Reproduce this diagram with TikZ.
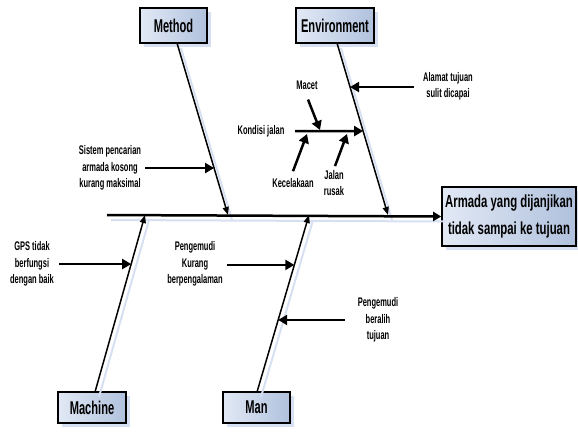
\documentclass[tikz,border=0pt]{standalone}
\usepackage{fontspec}
\setmainfont{Liberation Sans}[FakeStretch=0.6]
\newfontfamily\effectfont{Liberation Sans}[FakeStretch=0.65]
\usepackage{tikz}
\usetikzlibrary{arrows.meta,calc,shadows}
\definecolor{boxleft}{RGB}{226,233,245}
\definecolor{boxright}{RGB}{176,193,221}
\definecolor{shadowblue}{RGB}{214,224,242}
\tikzstyle{cat} = [draw=black, line width=1.6pt, left color=boxleft, right color=boxright, inner sep=0pt, font={\fontsize{18.5}{20}\selectfont\bfseries}, general shadow={shadow xshift=4pt, shadow yshift=-4pt, fill=shadowblue}]
\tikzstyle{lbl} = [align=center, inner sep=1pt, font={\fontsize{12.5}{16.3}\selectfont\bfseries}]
\tikzstyle{bone} = [line width=1.5pt, -{Triangle[length=8pt,width=6pt]}]
\tikzstyle{spine} = [line width=2.5pt, -{Triangle[length=8pt,width=9pt]}]
\tikzstyle{cause} = [line width=2.5pt, -{Triangle[length=9pt,width=10pt]}]
\tikzstyle{boneshadow} = [draw=shadowblue, line width=2pt, transform canvas={shift={(4pt,-5pt)}}]

\begin{document}
\begin{tikzpicture}[x=1pt,y=-1pt]
    \useasboundingbox (0,0) rectangle (578,432);
    % categories and effect
    \node[cat, minimum width=67pt, minimum height=35pt](method) at (173.5,25.5){Method};
    \node[cat, minimum width=78pt, minimum height=35pt](env) at (335,25.5){Environment};
    \node[cat, minimum width=68pt, minimum height=31pt](machine) at (92,407.5){Machine};
    \node[cat, minimum width=67pt, minimum height=31pt](man) at (256.5,407.5){Man};
    \node[cat, minimum width=134pt, minimum height=59pt, align=center, font={\effectfont\fontsize{17.5}{26.5}\selectfont\bfseries}](effect) at (509,216.5){Armada yang dijanjikan\\tidak sampai ke tujuan};
    % bone ends
    \coordinate (s0) at (107,215);
    \coordinate (m1) at (177,43);
    \coordinate (m2) at (228,215);
    \coordinate (e1) at (337,43);
    \coordinate (e2) at (388,215);
    \coordinate (c1) at (95,392);
    \coordinate (c2) at (145,215);
    \coordinate (h1) at (257,392);
    \coordinate (h2) at (309,215);
    % shadows
    \draw[boneshadow] (s0) -- (effect.west);
    \draw[boneshadow] (m1) -- (m2);
    \draw[boneshadow] (e1) -- (e2);
    \draw[boneshadow] (c1) -- (c2);
    \draw[boneshadow] (h1) -- (h2);
    % spine and bones
    \draw[spine](s0)--(effect.west);
    \draw[bone](m1)--(m2);
    \draw[bone](e1)--(e2);
    \draw[bone](c1)--(c2);
    \draw[bone](h1)--(h2);
    % causes
    \node[lbl](sistem) at (110,168){Sistem pencarian\\armada kosong\\kurang maksimal};
    \node[lbl](alamat) at (448,86){Alamat tujuan\\sulit dicapai};
    \node[lbl](kondisi) at (261,131){Kondisi jalan};
    \node[lbl](macet) at (307,85){Macet};
    \node[lbl](celaka) at (293,183){Kecelakaan};
    \node[lbl](rusak) at (334,183){Jalan\\rusak};
    \node[lbl](gps) at (32,264){GPS tidak\\berfungsi\\dengan baik};
    \node[lbl](kurang) at (195,264){Pengemudi\\Kurang\\berpengalaman};
    \node[lbl](beralih) at (378,320){Pengemudi\\beralih\\tujuan};
    \coordinate (p1) at ($(m1)!0.727!(m2)$);
    \coordinate (p2) at ($(e1)!0.256!(e2)$);
    \coordinate (p3) at ($(e1)!0.512!(e2)$);
    \coordinate (p4) at ($(c1)!0.723!(c2)$);
    \coordinate (p5) at ($(h1)!0.718!(h2)$);
    \coordinate (p6) at ($(h1)!0.407!(h2)$);
    \coordinate (k0) at (295,131);
    \coordinate (k1) at (320,130);
    \coordinate (k2) at (307,134);
    \coordinate (k3) at (347,134);
    \draw[cause]([xshift=3pt]sistem.east |- p1)--(p1);
    \draw[cause]([xshift=-8pt]alamat.west |- p2)--(p2);
    \draw[cause](k0)--(p3);
    \draw[cause]([shift={(1pt,-9pt)}]macet.south)--(k1);
    \draw[cause]([yshift=6pt]celaka.north)--(k2);
    \draw[cause]([shift={(1pt,3pt)}]rusak.north)--(k3);
    \draw[cause]([xshift=4pt]gps.east |- p4)--(p4);
    \draw[cause]([xshift=3pt]kurang.east |- p5)--(p5);
    \draw[cause]([xshift=-12pt]beralih.west |- p6)--(p6);
\end{tikzpicture}
\end{document}
